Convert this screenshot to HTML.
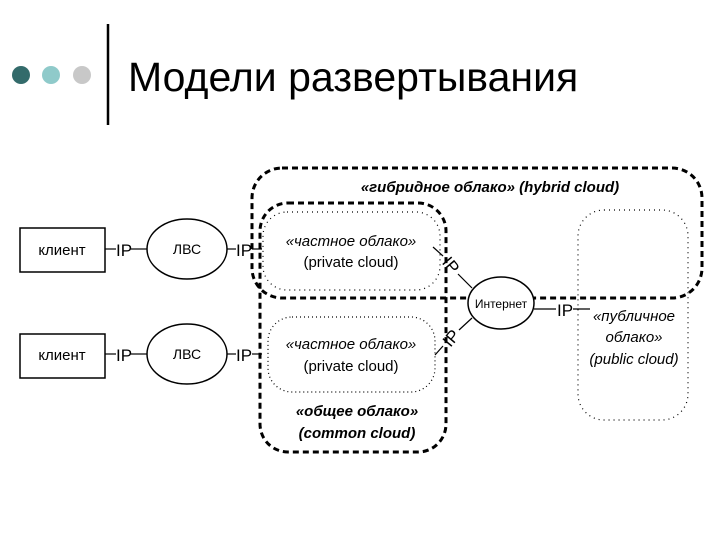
<!DOCTYPE html>
<html><head><meta charset="utf-8"><style>
body{margin:0;background:#fff;width:720px;height:540px;overflow:hidden;font-family:"Liberation Sans","Noto Sans CJK SC",sans-serif}
</style></head><body>
<svg width="720" height="540" xmlns="http://www.w3.org/2000/svg" font-family="Liberation Sans, Noto Sans CJK SC, sans-serif">
<circle cx="21" cy="75" r="9" fill="#336b6b"/>
<circle cx="51" cy="75" r="9" fill="#8fcaca"/>
<circle cx="82" cy="75" r="9" fill="#c8c8c8"/>
<line x1="108" y1="24" x2="108" y2="125" stroke="#000" stroke-width="2.5"/>
<text x="128" y="91" font-size="41">Модели развертывания</text>

<g stroke="#000" fill="none">
<rect x="252" y="168" width="450" height="130" rx="30" stroke-width="3" stroke-dasharray="6,4"/>
<rect x="260" y="203" width="186" height="249" rx="28" stroke-width="3" stroke-dasharray="6,4"/>
<rect x="263" y="212" width="177" height="78" rx="24" stroke-width="1.2" stroke-dasharray="1,4"/>
<rect x="268" y="317" width="167" height="75" rx="24" stroke-width="1.2" stroke-dasharray="1,3"/>
<rect x="578" y="210" width="110" height="210" rx="26" stroke-width="1.2" stroke-dasharray="1,4"/>
<rect x="20" y="228" width="85" height="44" stroke-width="1.5" fill="#fff"/>
<rect x="20" y="334" width="85" height="44" stroke-width="1.5" fill="#fff"/>
<ellipse cx="187" cy="249" rx="40" ry="30" stroke-width="1.5"/>
<ellipse cx="187" cy="354" rx="40" ry="30" stroke-width="1.5"/>
<ellipse cx="501" cy="303" rx="33" ry="26" stroke-width="1.5" fill="#fff"/>
<g stroke-width="1.2">
<line x1="105" y1="249" x2="116" y2="249"/><line x1="131" y1="249" x2="147" y2="249"/>
<line x1="227" y1="249" x2="236" y2="249"/><line x1="252" y1="249" x2="262" y2="249"/>
<line x1="105" y1="354" x2="116" y2="354"/><line x1="131" y1="354" x2="147" y2="354"/>
<line x1="227" y1="354" x2="236" y2="354"/><line x1="252" y1="354" x2="262" y2="354"/>
<line x1="534" y1="309" x2="556" y2="309"/><line x1="573" y1="309" x2="590" y2="309"/>
<line x1="433" y1="247" x2="443" y2="256"/><line x1="458" y1="274" x2="472" y2="288"/>
<line x1="435" y1="355" x2="443" y2="346"/><line x1="459" y1="330" x2="472" y2="318"/>
</g>
</g>
<g font-size="15" fill="#000">
<text x="62" y="255" text-anchor="middle">клиент</text>
<text x="62" y="360" text-anchor="middle">клиент</text>
<text x="124" y="256" text-anchor="middle" font-size="17">IP</text>
<text x="124" y="361" text-anchor="middle" font-size="17">IP</text>
<text x="244" y="256" text-anchor="middle" font-size="17">IP</text>
<text x="244" y="361" text-anchor="middle" font-size="17">IP</text>
<text x="565" y="316" text-anchor="middle" font-size="17">IP</text>
<text x="187" y="254" text-anchor="middle" font-size="14">ЛВС</text>
<text x="187" y="359" text-anchor="middle" font-size="14">ЛВС</text>
<text x="501" y="308" text-anchor="middle" font-size="12">Интернет</text>
<text transform="translate(451,265) rotate(50)" text-anchor="middle" y="6" font-size="17">IP</text>
<text transform="translate(451,338) rotate(-50)" text-anchor="middle" y="6" font-size="17">IP</text>
<text x="490" y="192" text-anchor="middle" font-weight="bold" font-style="italic">«гибридное облако» (hybrid cloud)</text>
<text x="351" y="246" text-anchor="middle" font-style="italic">«частное облако»</text>
<text x="351" y="267" text-anchor="middle">(private cloud)</text>
<text x="351" y="349" text-anchor="middle" font-style="italic">«частное облако»</text>
<text x="351" y="371" text-anchor="middle">(private cloud)</text>
<text x="357" y="416" text-anchor="middle" font-weight="bold" font-style="italic">«общее облако»</text>
<text x="357" y="438" text-anchor="middle" font-weight="bold" font-style="italic">(common cloud)</text>
<text x="634" y="321" text-anchor="middle" font-style="italic">«публичное</text>
<text x="634" y="342" text-anchor="middle" font-style="italic">облако»</text>
<text x="634" y="364" text-anchor="middle" font-style="italic">(public cloud)</text>
</g>
</svg>
</body></html>
